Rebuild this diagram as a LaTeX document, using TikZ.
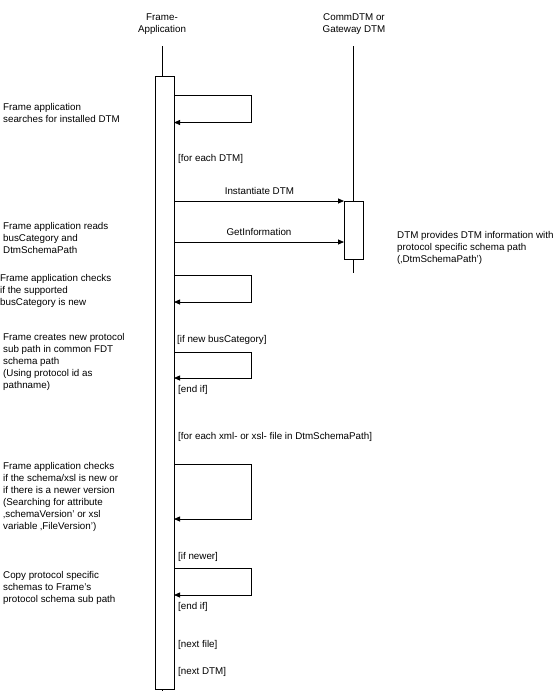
\documentclass[tikz,border=0pt]{standalone}
\usepackage{fontspec}
\setmainfont{Liberation Sans}
\usetikzlibrary{arrows.meta}

\begin{document}
\begin{tikzpicture}[x=1pt,y=-1pt,
    lbl/.style={font=\fontsize{9.8}{12}\selectfont, inner sep=0pt, align=left, anchor=west},
    act/.style={draw, fill=white, line width=0.8pt, inner sep=0pt, anchor=north west},
    msg/.style={line width=0.8pt, -{Triangle[length=6pt,width=5pt]}}]
    \useasboundingbox (0,0) rectangle (558,691);

    % heads and lifelines
    \node[lbl, align=center, anchor=center] (frame) at (162,24) {Frame-\\Application};
    \node[lbl, align=center, anchor=center] (comm) at (354,24) {CommDTM or\\Gateway DTM};
    \coordinate (frametop) at (162,46);
    \coordinate (framebot) at (162,691);
    \coordinate (commtop) at (353,46);
    \coordinate (commbot) at (353,273);
    \draw [line width=0.8pt] (frametop) -- (framebot);
    \draw [line width=0.8pt] (commtop) -- (commbot);

    \node[act, minimum width=19pt, minimum height=613pt] (fa) at (155,76) {};
    \node[act, minimum width=19pt, minimum height=58pt] (ca) at (344,201) {};

    % self calls of the frame
    \foreach \ya/\yb [count=\i] in {95/122.5, 275/302, 352/378, 464/519, 568.5/595}{
        \coordinate (ls\i) at (174,\ya);
        \coordinate (le\i) at (174,\yb);
        \draw [msg] (ls\i) -- ++(77,0) |- (le\i);
    }

    % calls to the DTM
    \coordinate (instfrom) at (fa.east |- ca.north);
    \draw [msg] (instfrom) -- (ca.north west) node[midway, lbl, above=6pt] (inst) {Instantiate DTM};
    \coordinate (infofrom) at (174,242);
    \coordinate (infoto) at (344,242);
    \draw [msg] (infofrom) -- (infoto) node[midway, lbl, above=6pt] (info) {GetInformation};

    \node[lbl] (dtminfo) at (397,248) {DTM provides DTM information with\\protocol specific schema path\\(‚DtmSchemaPath')};

    % notes on the left
    \node[lbl] (search) at (3,113) {Frame application\\searches for installed DTM};
    \node[lbl] (reads) at (3,238) {Frame application reads\\busCategory and\\DtmSchemaPath};
    \node[lbl] (checkbus) at (0,291) {Frame application checks\\if the supported\\busCategory is new};
    \node[lbl] (creates) at (3,361.5) {Frame creates new protocol\\sub path in common FDT\\schema path\\(Using protocol id as\\pathname)};
    \node[lbl] (checkxsl) at (3,496.5) {Frame application checks\\if the schema/xsl is new or\\if there is a newer version\\(Searching for attribute\\‚schemaVersion' or xsl\\variable ‚FileVersion')};
    \node[lbl] (copy) at (3,588) {Copy protocol specific\\schemas to Frame's\\protocol schema sub path};

    % guards
    \node[lbl] (eachdtm) at (178,159) {[for each DTM]};
    \node[lbl] (ifnew) at (177,340) {[if new busCategory]};
    \node[lbl] (endifa) at (178,390) {[end if]};
    \node[lbl] (eachfile) at (178,437) {[for each xml- or xsl- file in DtmSchemaPath]};
    \node[lbl] (ifnewer) at (178,557) {[if newer]};
    \node[lbl] (endifb) at (178,607) {[end if]};
    \node[lbl] (nextfile) at (178,645) {[next file]};
    \node[lbl] (nextdtm) at (178,672) {[next DTM]};

\end{tikzpicture}
\end{document}
